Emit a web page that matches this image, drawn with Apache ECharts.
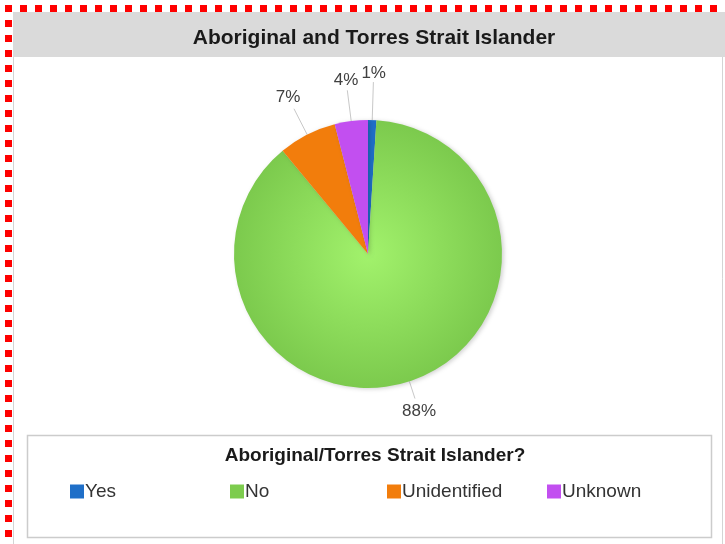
<!DOCTYPE html>
<html>
<head>
<meta charset="utf-8">
<script src="https://cdn.jsdelivr.net/npm/echarts@6/dist/echarts.min.js"></script>
<style>
  html, body { margin: 0; padding: 0; background: #ffffff; }
  #chart { width: 725px; height: 544px; }
</style>
</head>
<body>
<div id="chart"></div>
<script>
// Ethnicity breakdown (percent of total)
const categories = ['Yes', 'No', 'Unidentified', 'Unknown'];
const shares = [1, 88, 7, 4];
const chartTitle = 'Aboriginal and Torres Strait Islander';
const legendTitle = 'Aboriginal/Torres Strait Islander?';

// Styling
const FONT = '"Liberation Sans", Arial, sans-serif';
const sliceColors = ['#1f6fc8', '#7dcc4e', '#f27d0c', '#c24ff0'];
const leaderLengths = [38, 18, 29, 31];
const legendLefts = [70, 230, 387, 547];

function sliceFill(i) {
  if (i === 1) {
    return new echarts.graphic.RadialGradient(0.5, 0.5, 0.55, [
      { offset: 0, color: '#a2f26c' },
      { offset: 1, color: '#78c64a' }
    ]);
  }
  return sliceColors[i];
}

const chart = echarts.init(document.getElementById('chart'), null, { renderer: 'canvas' });

const legends = categories.map((name, i) => ({
  data: [{ name: name, itemStyle: { color: sliceColors[i] } }],
  left: legendLefts[i],
  top: 482,
  orient: 'horizontal',
  icon: 'rect',
  itemWidth: 14,
  itemHeight: 14,
  itemGap: 0,
  padding: 0,
  selectedMode: false,
  textStyle: { fontFamily: FONT, fontSize: 19, color: '#333333', padding: [0, 0, 0, -4] }
}));

// Centre each percentage label just beyond the end of its leader line,
// pushed outward along the line direction by half the label's extent.
function placeLabel(p) {
  const pts = p.labelLinePoints;
  const a = pts[0];
  const b = pts[pts.length - 1];
  const dx = b[0] - a[0];
  const dy = b[1] - a[1];
  const len = Math.hypot(dx, dy) || 1;
  const ux = dx / len, uy = dy / len;
  const w = p.labelRect.width, h = p.labelRect.height;
  const push = Math.abs(ux) * w / 2 + Math.abs(uy) * h / 2;
  return {
    x: b[0] + ux * push,
    y: b[1] + uy * push,
    align: 'center',
    verticalAlign: 'middle',
    labelLinePoints: pts
  };
}

chart.setOption({
  animation: false,
  backgroundColor: '#ffffff',
  title: [
    {
      text: chartTitle,
      left: 369, top: 23, textAlign: 'center',
      textStyle: { fontFamily: FONT, fontSize: 21, fontWeight: 'bold', color: '#1a1a1a' }
    },
    {
      text: legendTitle,
      left: 370, top: 441, textAlign: 'center',
      textStyle: { fontFamily: FONT, fontSize: 19, fontWeight: 'bold', color: '#1a1a1a' }
    }
  ],
  legend: legends,
  graphic: [
    // outer panel border
    { type: 'rect', z: -10, shape: { x: 13.5, y: 12.5, width: 709, height: 540 },
      style: { fill: '#ffffff', stroke: '#d4d4d4', lineWidth: 1 } },
    // title band
    { type: 'rect', z: -9, shape: { x: 13, y: 12, width: 712, height: 45 },
      style: { fill: '#dadada' } },
    // legend box
    { type: 'rect', z: -9, shape: { x: 27.5, y: 435.5, width: 684, height: 102 },
      style: { fill: '#ffffff', stroke: '#cccccc', lineWidth: 1.5 } },
    // red dashed frame
    { type: 'line', z: 10, shape: { x1: 5, y1: 8.5, x2: 725, y2: 8.5 },
      style: { stroke: '#ff0000', lineWidth: 7, lineDash: [7, 8] } },
    { type: 'line', z: 10, shape: { x1: 8.5, y1: 5, x2: 8.5, y2: 544 },
      style: { stroke: '#ff0000', lineWidth: 7, lineDash: [7, 8] } }
  ],
  series: [{
    type: 'pie',
    center: [368, 254],
    radius: 134,
    startAngle: 90,
    clockwise: true,
    avoidLabelOverlap: false,
    data: categories.map((name, i) => ({
      name: name,
      value: shares[i],
      itemStyle: { color: sliceFill(i) },
      labelLine: { length: leaderLengths[i] }
    })),
    itemStyle: {
      borderWidth: 0,
      shadowColor: 'rgba(0,0,0,0.18)',
      shadowBlur: 4,
      shadowOffsetX: 2,
      shadowOffsetY: 1
    },
    label: {
      show: true,
      position: 'outside',
      formatter: '{c}%',
      fontFamily: FONT,
      fontSize: 17,
      color: '#404040',
      distanceToLabelLine: 0
    },
    labelLine: {
      show: true,
      length: 30,
      length2: 0,
      lineStyle: { color: '#c8c8c8', width: 1 }
    },
    labelLayout: placeLabel,
    emphasis: { disabled: true }
  }]
});
</script>
</body>
</html>
